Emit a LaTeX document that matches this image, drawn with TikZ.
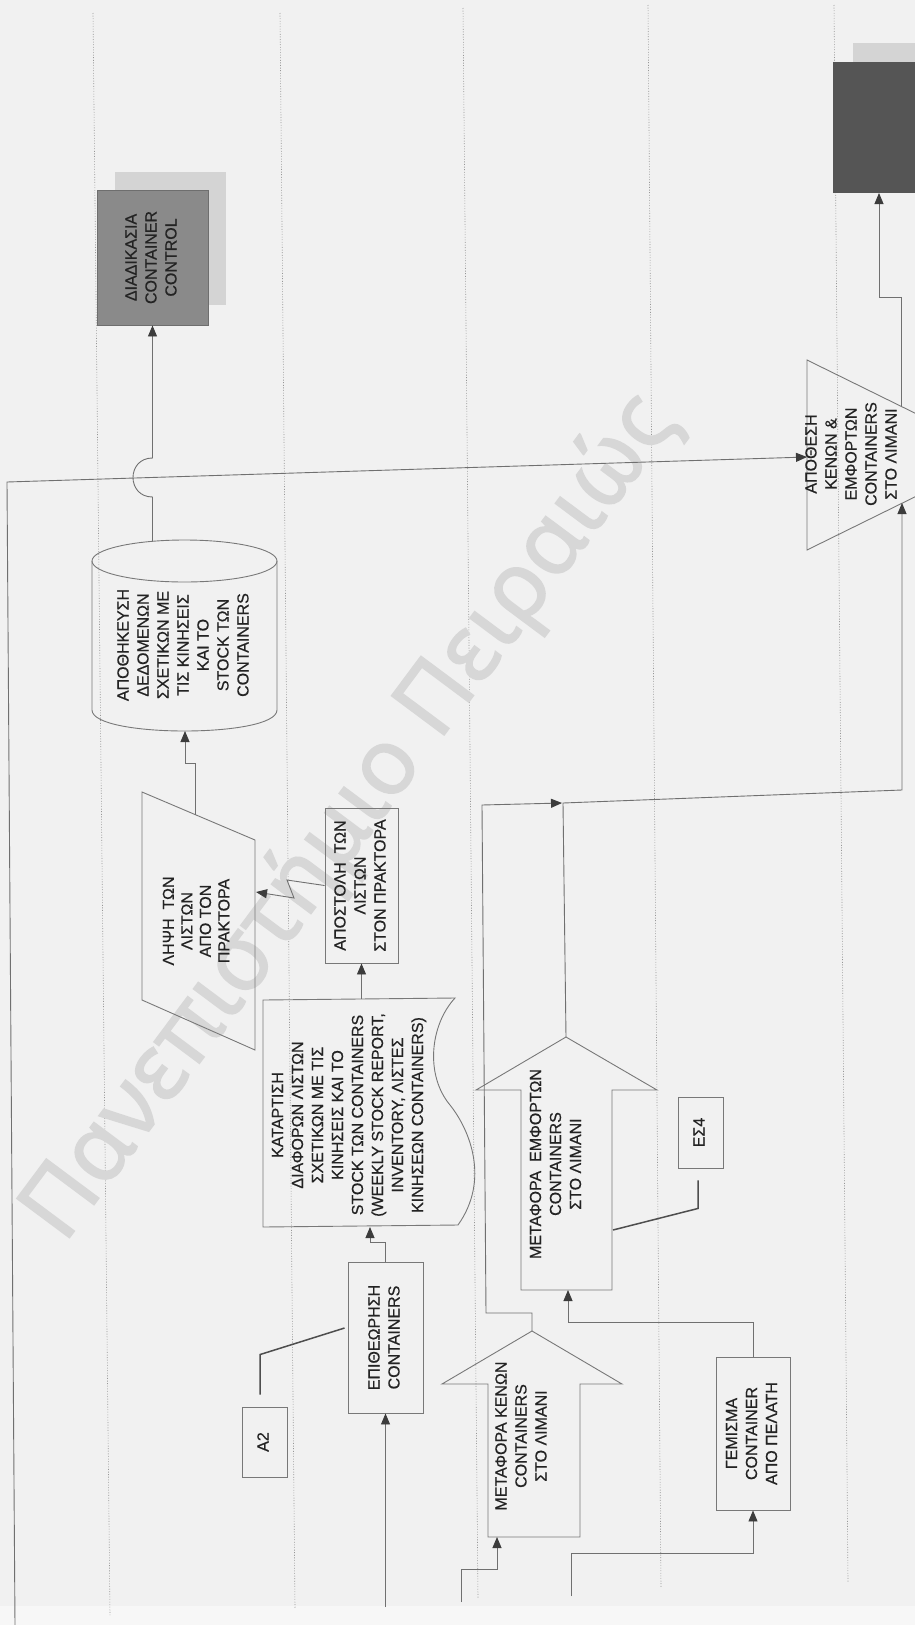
\documentclass[tikz,border=0pt]{standalone}
\usepackage{fontspec}
\setmainfont{Liberation Sans}[FakeBold=0.5]
\newfontfamily\wmfont{Noto Sans}[FakeBold=1.5]
\usepackage{graphicx}
\usetikzlibrary{arrows.meta,calc}

\definecolor{bg}{RGB}{241,241,241}
\definecolor{bandc}{RGB}{247,247,247}
\definecolor{lanec}{RGB}{150,150,150}
\definecolor{edge}{RGB}{120,120,120}
\definecolor{wirec}{RGB}{112,112,112}
\definecolor{arrc}{RGB}{60,60,60}
\definecolor{notec}{RGB}{78,78,78}
\definecolor{txt}{RGB}{35,35,35}
\definecolor{midfill}{RGB}{138,138,138}
\definecolor{darkfill}{RGB}{85,85,85}
\definecolor{shadowc}{RGB}{212,212,212}
\definecolor{wmc}{RGB}{215,215,215}

% vertical (bottom-to-top) multi-line label
\newcommand{\vtext}[1]{\rotatebox{90}{\begin{tabular}{@{}c@{}}#1\end{tabular}}}

\begin{document}
\begin{tikzpicture}[x=1pt,y=-1pt,
  lbl/.style={font=\fontsize{16}{20}\selectfont, text=txt, inner sep=0pt},
  pbox/.style={lbl, draw=edge, line width=0.9pt},
  shapeline/.style={draw=edge, line width=0.9pt, line join=miter},
  wire/.style={draw=wirec, line width=0.9pt},
  flow/.style={wire, -{Triangle[length=11pt,width=9pt,color=arrc]}},
  note/.style={draw=notec, line width=1.5pt},
  lane/.style={draw=lanec, line width=0.6pt, dash pattern=on 1pt off 1.6pt}]

\useasboundingbox (0,0) rectangle (915,1625);
\clip (0,0) rectangle (915,1625);
\fill[bg] (0,0) rectangle (915,1625);
\fill[bandc] (0,1606) rectangle (915,1625);

% swimlane separators
\draw[lane] (93,13) -- (110,1615);
\draw[lane] (280,13) -- (295,1608);
\draw[lane] (463,8) -- (478,1598);
\draw[lane] (648,5) -- (661,1588);
\draw[lane] (834,5) -- (848,1582);

% watermark
\node[font=\wmfont\fontsize{92}{92}\selectfont, text=wmc, rotate=53.3, anchor=base west, inner sep=0pt] (wm) at (64,1245) {Πανεπιστήμιο Πειραιώς};

% sub-process boxes with shadows
\fill[shadowc] (115,172) rectangle (226,305);
\node[pbox, fill=midfill, draw=midfill!80!black, minimum width=111pt, minimum height=135pt] (ctrl) at (152.5,257.5)
  {\vtext{ΔΙΑΔΙΚΑΣΙΑ\\CONTAINER\\CONTROL}};
\fill[shadowc] (853,43) rectangle (960,175);
\node[fill=darkfill, minimum width=110pt, minimum height=131pt, inner sep=0pt] (dark) at (888,127.5) {};

% stored data cylinder
\draw[shapeline] (92,561) -- (92,710) .. controls (92,738) and (277,738) .. (277,710) -- (277,561);
\draw[shapeline] (184.5,561) ellipse [x radius=92.5pt, y radius=21pt];
\node[lbl] (store) at (184.5,645)
  {\vtext{ΑΠΟΘΗΚΕΥΣΗ\\ΔΕΔΟΜΕΝΩΝ\\ΣΧΕΤΙΚΩΝ ΜΕ\\ΤΙΣ ΚΙΝΗΣΕΙΣ\\ΚΑΙ ΤΟ\\STOCK ΤΩΝ\\CONTAINERS}};

% input parallelogram
\draw[shapeline] (142,792) -- (255,840) -- (255,1050) -- (142,1000) -- cycle;
\node[lbl, font=\fontsize{16}{18.5}\selectfont] (recv) at (198,921)
  {\vtext{ΛΗΨΗ\ \ ΤΩΝ\\ΛΙΣΤΩΝ\\ΑΠΟ ΤΟΝ\\ΠΡΑΚΤΟΡΑ}};

% process boxes
\node[pbox, minimum width=73pt, minimum height=155pt] (send) at (361.5,885.5)
  {\vtext{ΑΠΟΣΤΟΛΗ\ \ ΤΩΝ\\ΛΙΣΤΩΝ\\ΣΤΟΝ ΠΡΑΚΤΟΡΑ}};
\node[pbox, minimum width=75pt, minimum height=151pt] (insp) at (385.5,1337.5)
  {\vtext{ΕΠΙΘΕΩΡΗΣΗ\\CONTAINERS}};
\node[pbox, minimum width=45pt, minimum height=70pt] (a2) at (264.5,1442) {\vtext{A2}};
\node[pbox, minimum width=45pt, minimum height=71pt] (es4) at (700.5,1132.5) {\vtext{ΕΣ4}};
\node[pbox, minimum width=74pt, minimum height=153pt] (gem) at (753,1433.5)
  {\vtext{ΓΕΜΙΣΜΑ\\CONTAINER\\ΑΠΟ ΠΕΛΑΤΗ}};

% document with wavy edge
\draw[shapeline] (263,1000) -- (455,998)
  .. controls (430,1025) and (425,1075) .. (450,1105)
  .. controls (470,1130) and (490,1180) .. (458,1225) -- (263,1227) -- cycle;
\node[lbl] (lists) at (349,1115)
  {\vtext{ΚΑΤΑΡΤΙΣΗ\\ΔΙΑΦΟΡΩΝ ΛΙΣΤΩΝ\\ΣΧΕΤΙΚΩΝ ΜΕ ΤΙΣ\\ΚΙΝΗΣΕΙΣ ΚΑΙ ΤΟ\\STOCK ΤΩΝ CONTAINERS\\(WEEKLY STOCK REPORT,\\INVENTORY, ΛΙΣΤΕΣ\\ΚΙΝΗΣΕΩΝ CONTAINERS)}};

% transport block arrows
\draw[shapeline] (566,1037) -- (657,1090) -- (612,1090) -- (612,1290) -- (521,1290) -- (521,1090) -- (476,1090) -- cycle;
\node[lbl] (emph) at (557,1164)
  {\vtext{ΜΕΤΑΦΟΡΑ\ \ ΕΜΦΟΡΤΩΝ\\CONTAINERS\\ΣΤΟ ΛΙΜΑΝΙ}};
\draw[shapeline] (532,1331) -- (622,1384) -- (580,1384) -- (580,1537) -- (488,1537) -- (488,1384) -- (442,1384) -- cycle;
\node[lbl] (kenon) at (522.5,1436)
  {\vtext{ΜΕΤΑΦΟΡΑ ΚΕΝΩΝ\\CONTAINERS\\ΣΤΟ ΛΙΜΑΝΙ}};

% storage triangle
\draw[shapeline] (807,360) -- (1000,455) -- (807,550) -- cycle;
\node[lbl] (depot) at (852.5,454)
  {\vtext{ΑΠΟΘΕΣΗ\\ΚΕΝΩΝ \&\\ΕΜΦΟΡΤΩΝ\\CONTAINERS\\ΣΤΟ ΛΙΜΑΝΙ}};

% connection points on drawn outlines
\coordinate (storetop) at (152.5,541);
\coordinate (storebot) at (185,731);
\coordinate (recvtop) at (195,815);
\coordinate (recvin) at (256,892);
\coordinate (liststop) at (361.5,999);
\coordinate (listsbot) at (370,1227);
\coordinate (emphtop) at (566,1037);
\coordinate (emphbot) at (568,1290);
\coordinate (emphR) at (613,1230);
\coordinate (kenontop) at (532,1331);
\coordinate (kenonbot) at (497,1537);
\coordinate (depotL) at (807,457);
\coordinate (depotT) at (901,406);
\coordinate (depotB) at (902,503);
\coordinate (darkin) at (879,193);
\coordinate (j1) at (563,803);
\coordinate (srcL) at (15,1625);
\coordinate (inspsrc) at (385.5,1607);
\coordinate (kenonsrc) at (461,1602);
\coordinate (gemsrc) at (571,1596);

% connectors
\draw[flow] (storetop) -- (152.5,497) .. controls (126.5,497) and (126.5,458) .. (152.5,458) -- (ctrl.south);
\draw[flow] (srcL) -- (7,482) -- (depotL);
\draw[flow] (recvtop) -- (195,763) -- (185,763) -- (storebot);
\draw[flow] (send.west) -- (287,880) -- (294,898) -- (recvin);
\draw[flow] (liststop) -- (send.south);
\draw[flow] (insp.north) -- ++(0,-19) -| (listsbot);
\draw[flow] (inspsrc) -- (insp.south);
\draw[flow] (kenonsrc) -- ++(0,-33) -| (kenonbot);
\draw[flow] (kenontop) -- (532,1313) -- (486,1313) -- (482,805) -- ([xshift=-1pt]j1);
\draw[flow] (emphtop) -- (j1) -- (902,790) -- (depotB);
\draw[flow] (gem.north) -- ++(0,-34) -| (emphbot);
\draw[flow] (gemsrc) -- ++(0,-43) -| (gem.south);
\draw[flow] (depotT) -- (901,297) -- (879,297) -- (darkin);

% annotation leaders
\draw[note] ([xshift=-4.5pt,yshift=12pt]a2.north) -- ++(0,-40) -- ([xshift=-3pt,yshift=9.5pt]insp.west);
\draw[note] ([xshift=-2.5pt,yshift=-12pt]es4.south) -- ++(0,28) -- (emphR);
\end{tikzpicture}
\end{document}
